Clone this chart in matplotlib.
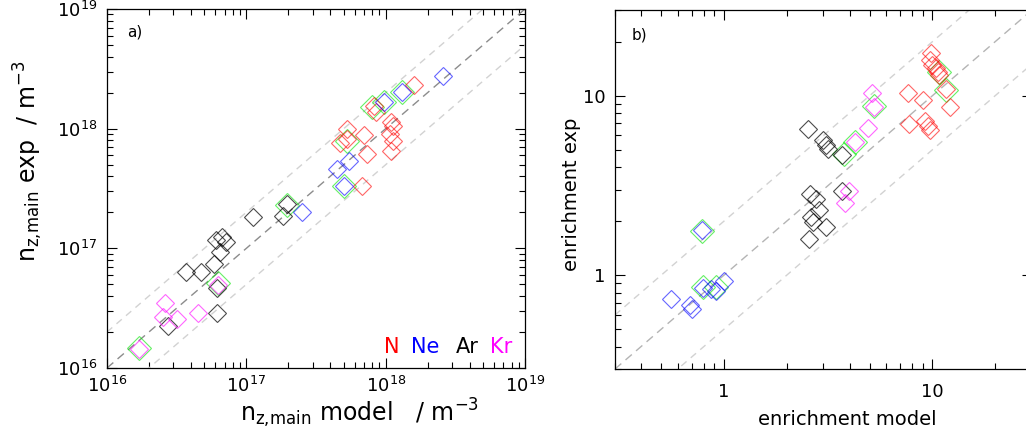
import matplotlib
matplotlib.use("Agg")
import matplotlib.pyplot as plt
import numpy as np
from matplotlib.ticker import NullFormatter

plt.rcParams['font.family'] = ['DejaVu Sans']
plt.rcParams['mathtext.default'] = 'regular'

# ---- panel a) densities [m^-3]: model vs exp
N_model_a = [1.60e18, 8.2e17, 8.5e17, 5.3e17, 7.0e17, 5.3e17, 4.7e17,
             1.10e18, 1.13e18, 1.08e18, 1.12e18, 1.10e18, 7.4e17, 6.8e17]
N_exp_a = [2.30e18, 1.56e18, 1.37e18, 9.9e17, 8.9e17, 8.2e17, 7.6e17,
           1.13e18, 1.06e18, 9.0e17, 7.9e17, 6.5e17, 6.1e17, 3.3e17]
Ne_model_a = [2.56e18, 1.32e18, 9.7e17, 5.5e17, 4.5e17, 5.0e17, 2.5e17]
Ne_exp_a = [2.74e18, 2.02e18, 1.66e18, 5.4e17, 4.6e17, 3.3e17, 2.0e17]
Ar_model_a = [1.96e17, 1.84e17, 1.11e17, 6.1e16, 6.7e16, 7.2e16, 6.5e16,
              5.9e16, 3.7e16, 4.7e16, 6.2e16, 6.2e16, 2.76e16]
Ar_exp_a = [2.33e17, 1.86e17, 1.81e17, 1.17e17, 1.24e17, 1.12e17, 9.4e16,
            7.4e16, 6.4e16, 6.3e16, 4.7e16, 2.86e16, 2.23e16]
Kr_model_a = [6.3e16, 2.6e16, 2.54e16, 3.17e16, 4.47e16, 1.70e16]
Kr_exp_a = [4.95e16, 3.5e16, 2.69e16, 2.57e16, 2.86e16, 1.45e16]
hl_model_a = [1.32e18, 9.7e17, 8.0e17, 5.3e17, 5.0e17, 1.96e17, 6.3e16, 1.71e16]
hl_exp_a = [2.02e18, 1.66e18, 1.51e18, 7.9e17, 3.3e17, 2.3e17, 5.1e16, 1.47e16]

# ---- panel b) enrichment: model vs exp
N_model_b = [9.86, 9.7, 10.0, 10.4, 10.6, 10.8, 11.6, 7.6, 9.0, 12.1, 7.75, 9.25, 9.5, 9.7]
N_exp_b = [17.2, 15.7, 14.8, 14.2, 13.6, 13.0, 10.9, 10.3, 9.4, 8.6, 6.98, 7.2, 6.8, 6.4]
Ne_model_b = [0.787, 0.793, 0.863, 0.918, 1.0, 0.554, 0.684, 0.70]
Ne_exp_b = [1.79, 0.843, 0.835, 0.817, 0.929, 0.734, 0.68, 0.646]
Ar_model_b = [2.54, 2.99, 3.14, 3.70, 3.08, 3.70, 2.58, 2.76, 2.86, 2.61, 2.66, 3.10, 2.56]
Ar_exp_b = [6.48, 5.63, 5.06, 4.68, 5.28, 2.96, 2.84, 2.66, 2.32, 2.10, 1.97, 1.85, 1.59]
Kr_model_b = [5.13, 5.26, 4.89, 4.26, 3.96, 3.82]
Kr_exp_b = [10.3, 8.65, 6.6, 5.51, 2.96, 2.52]
hl_model_b = [10.8, 11.6, 5.26, 4.26, 3.75, 0.787, 0.793, 0.912]
hl_exp_b = [13.6, 10.7, 8.75, 5.51, 4.74, 1.77, 0.854, 0.854]

species = ["N", "Ne", "Ar", "Kr"]
colors = {"N": (1, 0, 0, 0.6), "Ne": (0, 0, 1, 0.6), "Ar": (0, 0, 0, 0.7),
          "Kr": (1, 0, 1, 0.6)}
text_colors = {"N": "red", "Ne": "blue", "Ar": "black", "Kr": "magenta"}
green = (0, 0.9, 0, 0.6)

lim_a = [1e16, 1e19]
lim_b = [0.3, 30]


def draw_panel(ax, lim, data, hl, mid_color):
    xs = np.array(lim)
    # y = x and factor-2 band
    ax.plot(xs, xs, '--', color=mid_color, lw=1.0, dashes=(6, 4))
    ax.plot(xs, 2 * xs, '--', color="#d2d2d2", lw=1.0, dashes=(5, 4))
    ax.plot(xs, xs / 2, '--', color="#d2d2d2", lw=1.0, dashes=(5, 4))
    ax.plot(hl[0], hl[1], 'D', ms=11.8, mfc='none', mec=green, mew=0.8, ls='none')
    for sp in species:
        x, y = data[sp]
        ax.plot(x, y, 'D', ms=9.2, mfc='none', mec=colors[sp], mew=0.8, ls='none')
    ax.set_xscale('log')
    ax.set_yscale('log')
    ax.set_xlim(lim)
    ax.set_ylim(lim)
    ax.tick_params(which='both', direction='in', top=True, right=True,
                   labelsize=13, width=0.8)
    ax.tick_params(which='major', length=7)
    ax.tick_params(which='minor', length=4)
    for s in ax.spines.values():
        s.set_linewidth(0.9)


fig = plt.figure(figsize=(10.26, 4.43), dpi=100)
ax1 = fig.add_axes([0.1043, 0.1693, 0.4074, 0.8104])
ax2 = fig.add_axes([0.5994, 0.1670, 0.4064, 0.8104])

draw_panel(ax1, lim_a,
           {"N": (N_model_a, N_exp_a), "Ne": (Ne_model_a, Ne_exp_a),
            "Ar": (Ar_model_a, Ar_exp_a), "Kr": (Kr_model_a, Kr_exp_a)},
           (hl_model_a, hl_exp_a), "#8c8c8c")
draw_panel(ax2, lim_b,
           {"N": (N_model_b, N_exp_b), "Ne": (Ne_model_b, Ne_exp_b),
            "Ar": (Ar_model_b, Ar_exp_b), "Kr": (Kr_model_b, Kr_exp_b)},
           (hl_model_b, hl_exp_b), "#b4b4b4")

ax1.tick_params(axis='x', pad=6)
ax1.tick_params(axis='y', pad=7)
ax1.set_xlabel(r'n$_{z,\!main}$ model   / m$^{-3}$', fontsize=17)
ax1.set_ylabel(r'n$_{z,\!main}$ exp  / m$^{-3}$', fontsize=17)
ax1.xaxis.set_label_coords(0.605, -0.08)
ax1.yaxis.set_label_coords(-0.148, 0.575)
ax1.text(0.048, 0.935, 'a)', transform=ax1.transAxes, fontsize=11, va='center')

lx = [0.682, 0.761, 0.861, 0.943]
for sp, x in zip(species, lx):
    ax1.text(x, 0.058, sp, transform=ax1.transAxes, fontsize=15, ha='center',
             va='center', color=text_colors[sp])

ax2.set_xticks([1, 10], ['1', '10'])
ax2.set_yticks([1, 10], ['1', '10'])
ax2.xaxis.set_minor_formatter(NullFormatter())
ax2.yaxis.set_minor_formatter(NullFormatter())
ax2.set_xlim(lim_b)
ax2.set_ylim(lim_b)
ax2.tick_params(axis='x', pad=10)
ax2.tick_params(axis='y', pad=7)
ax2.set_xlabel('enrichment model', fontsize=14)
ax2.set_ylabel('enrichment exp', fontsize=14)
ax2.xaxis.set_label_coords(0.556, -0.115)
ax2.yaxis.set_label_coords(-0.082, 0.486)
ax2.text(0.041, 0.93, 'b)', transform=ax2.transAxes, fontsize=11, va='center')

fig.savefig("out.png", dpi=100)
